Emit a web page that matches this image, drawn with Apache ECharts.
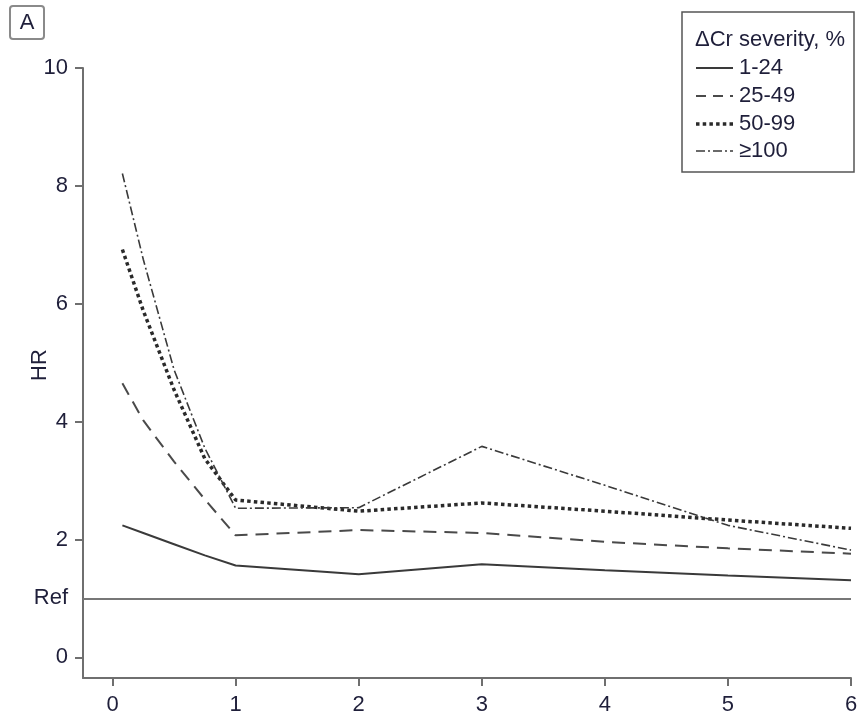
<!DOCTYPE html>
<html>
<head>
<meta charset="utf-8">
<title>HR by ΔCr severity</title>
<script src="https://cdn.jsdelivr.net/npm/echarts@6/dist/echarts.min.js"></script>
<style>
  html, body { margin: 0; padding: 0; background: #fff; }
  #chart { width: 858px; height: 718px; }
</style>
</head>
<body>
<div id="chart"></div>
<script>
// Follow-up time (years) at which hazard ratios are plotted
const timeYears = [0.08, 0.25, 0.5, 0.75, 1, 2, 3, 4, 5, 6];

// Hazard ratios by ΔCr severity group
const hr1to24   = [2.24, 2.11, 1.92, 1.73, 1.56, 1.41, 1.58, 1.48, 1.39, 1.31];
const hr25to49  = [4.65, 4.02, 3.32, 2.68, 2.07, 2.16, 2.11, 1.96, 1.85, 1.76];
const hr50to99  = [6.92, 5.88, 4.54, 3.37, 2.67, 2.48, 2.62, 2.48, 2.33, 2.19];
const hr100plus = [8.21, 6.75, 4.88, 3.55, 2.53, 2.54, 3.58, 2.92, 2.24, 1.82];

const groupNames = ['1-24', '25-49', '50-99', '≥100'];
const legendTitle = 'ΔCr severity, %';
const xTicks = [0, 1, 2, 3, 4, 5, 6];
const yTicks = [0, 2, 4, 6, 8, 10];
const refValue = 1;

const FONT = '"Liberation Sans", Arial, sans-serif';
const AXIS_COLOR = '#6f6f6f';
const TEXT_COLOR = '#1f1f3a';

function pairs(ys) {
  return timeYears.map((t, i) => [t, ys[i]]);
}

const chart = echarts.init(document.getElementById('chart'), null, { renderer: 'canvas' });

const lineStyles = [
  { color: '#3a3a3a', width: 2, type: 'solid' },
  { color: '#4a4a4a', width: 2, type: [13, 8] },
  { color: '#2a2a2a', width: 3.5, type: [3.5, 3.2] },
  { color: '#3a3a3a', width: 1.6, type: [9, 3, 2, 3] }
];
const seriesData = [hr1to24, hr25to49, hr50to99, hr100plus];

const series = seriesData.map((ys, i) => ({
  name: groupNames[i],
  type: 'line',
  data: pairs(ys),
  symbol: 'none',
  smooth: false,
  lineStyle: lineStyles[i],
  itemStyle: { color: lineStyles[i].color },
  z: 3 + i
}));

// Reference line at HR = 1
series[0].markLine = {
  silent: true,
  symbol: 'none',
  label: { show: false },
  lineStyle: { color: '#777', width: 2, type: 'solid' },
  data: [{ yAxis: refValue }]
};

// Boxed key: frame, heading, and one sample line + label per group
const keyRowY = [68, 96, 124, 151];
const legendSampleDash = [null, [10, 7], [3.5, 3.2], [9, 3, 2, 3]];
const keyGraphics = [
  {
    type: 'rect',
    shape: { x: 682, y: 12, width: 172, height: 160 },
    style: { fill: 'none', stroke: '#555', lineWidth: 1.5 },
    silent: true
  },
  {
    type: 'text',
    x: 695,
    y: 40,
    style: { text: legendTitle, font: '22px ' + FONT, fill: TEXT_COLOR, verticalAlign: 'middle' },
    silent: true
  }
];
groupNames.forEach((name, i) => {
  keyGraphics.push({
    type: 'line',
    shape: { x1: 696, y1: keyRowY[i], x2: 733, y2: keyRowY[i] },
    style: {
      stroke: lineStyles[i].color,
      lineWidth: lineStyles[i].width,
      lineDash: legendSampleDash[i]
    },
    silent: true
  });
  keyGraphics.push({
    type: 'text',
    x: 739,
    y: keyRowY[i],
    style: { text: name, font: '22px ' + FONT, fill: TEXT_COLOR, verticalAlign: 'middle' },
    silent: true
  });
});

chart.setOption({
  animation: false,
  backgroundColor: '#fff',
  grid: { left: 83, right: 7, top: 68, bottom: 40, containLabel: false, outerBoundsMode: 'none' },
  xAxis: {
    type: 'value',
    min: -0.24,
    max: 6,
    splitLine: { show: false },
    axisLine: { show: true, onZero: false, lineStyle: { color: AXIS_COLOR, width: 2 } },
    axisTick: { show: true, length: 8, lineStyle: { color: AXIS_COLOR, width: 2 }, customValues: xTicks },
    axisLabel: {
      customValues: xTicks,
      margin: 16,
      fontFamily: FONT,
      fontSize: 22,
      color: TEXT_COLOR
    }
  },
  yAxis: {
    type: 'value',
    min: -0.35,
    max: 10,
    name: 'HR',
    nameLocation: 'middle',
    nameGap: 32,
    nameRotate: 90,
    nameMoveOverlap: false,
    nameTextStyle: { fontFamily: FONT, fontSize: 22, color: TEXT_COLOR, padding: [0, 0, 0, 16] },
    splitLine: { show: false },
    axisLine: { show: true, onZero: false, lineStyle: { color: AXIS_COLOR, width: 2 } },
    axisTick: { show: true, length: 8, lineStyle: { color: AXIS_COLOR, width: 2 }, customValues: yTicks },
    axisLabel: {
      customValues: [0, refValue, 2, 4, 6, 8, 10],
      formatter: v => (v === refValue ? 'Ref' : String(v)),
      margin: 15,
      fontFamily: FONT,
      fontSize: 22,
      color: TEXT_COLOR
    }
  },
  graphic: keyGraphics.concat([
    {
      type: 'rect',
      shape: { x: 10, y: 6, width: 34, height: 33, r: 3 },
      style: { fill: 'none', stroke: '#8a8a8a', lineWidth: 2 },
      silent: true
    },
    {
      type: 'text',
      x: 27,
      y: 23,
      style: { text: 'A', font: '22px ' + FONT, fill: TEXT_COLOR, align: 'center', verticalAlign: 'middle' },
      silent: true
    }
  ]),
  series: series
});
</script>
</body>
</html>
